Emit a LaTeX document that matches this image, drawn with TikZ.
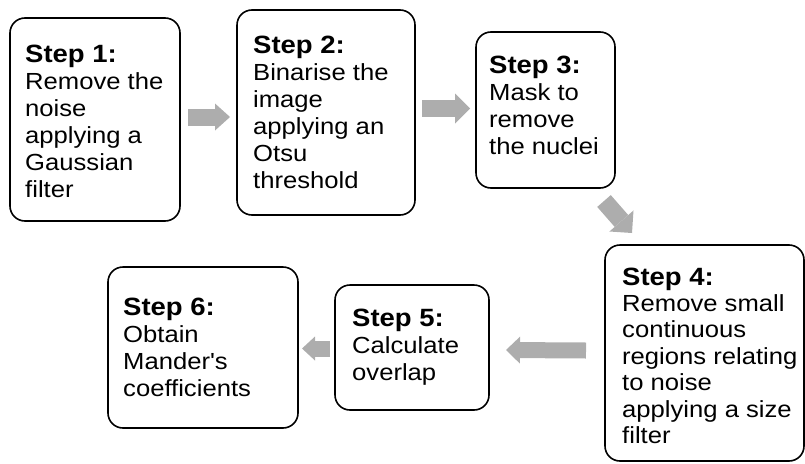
\documentclass[tikz,border=0pt]{standalone}
\usepackage{fontspec}
\setmainfont{Liberation Sans}
\usetikzlibrary{arrows.meta}
\definecolor{arrgray}{RGB}{173,173,173}
\newcommand{\stepcontent}[3][27]{\scalebox{1.10}[1]{\fontsize{23.3}{#1}\selectfont\begin{tabular}[t]{@{}l@{}}\fontsize{25}{#1}\selectfont\bfseries #2\\#3\end{tabular}}}
\begin{document}
\begin{tikzpicture}[x=1pt,y=-1pt,
  stepbox/.style={draw=black, line width=1.6pt, rounded corners=15pt, inner sep=0pt},
  steptext/.style={inner sep=0pt, anchor=base west},
  blockarr/.style={draw=arrgray, line width=#1, line cap=butt},
]
\useasboundingbox (0,0) rectangle (805,463);
\clip (0,0) rectangle (805,463);
% boxes
\node[stepbox, minimum width=170pt, minimum height=203pt] (b1) at (95,119.5) {};
\node[stepbox, minimum width=178pt, minimum height=205pt] (b2) at (326,112.5) {};
\node[stepbox, minimum width=139pt, minimum height=156pt] (b3) at (545.5,110) {};
\node[stepbox, minimum width=199pt, minimum height=216pt] (b4) at (704.5,353) {};
\node[stepbox, minimum width=154pt, minimum height=125pt] (b5) at (412,347.5) {};
\node[stepbox, minimum width=190pt, minimum height=161pt] (b6) at (203,347.5) {};
% texts
\node[steptext] (t1) at (25,62) {\stepcontent{Step 1:}{Remove the\\noise\\applying a\\Gaussian\\filter}};
\node[steptext] (t2) at (253,53.3) {\stepcontent{Step 2:}{Binarise the\\image\\applying an\\Otsu\\threshold}};
\node[steptext] (t3) at (489,73) {\stepcontent{Step 3:}{Mask to\\remove\\the nuclei}};
\node[steptext] (t4) at (622,285) {\stepcontent[26.4]{Step 4:}{Remove small\\continuous\\regions relating\\to noise\\applying a size\\filter}};
\node[steptext] (t5) at (352,326.7) {\stepcontent{Step 5:}{Calculate\\overlap}};
\node[steptext] (t6) at (123,315) {\stepcontent{Step 6:}{Obtain\\Mander\textquotesingle s\\coefficients}};
% arrow end points
\coordinate (a1s) at (188,117);   \coordinate (a1e) at (230,117);
\coordinate (a2s) at (422,108.5); \coordinate (a2e) at (470,108.5);
\coordinate (a3s) at (604,201);   \coordinate (a3e) at (632,233);
\coordinate (a4s) at (586,350.5); \coordinate (a4e) at (506,350);
\coordinate (a5s) at (330,348.5); \coordinate (a5e) at (302,348.5);
% block arrows
\draw[blockarr=17pt, -{Triangle[width=27pt, length=15pt, line width=0pt, fill=arrgray]}] (a1s) -- (a1e);
\draw[blockarr=17pt, -{Triangle[width=30pt, length=15pt, line width=0pt, fill=arrgray]}] (a2s) -- (a2e);
\draw[blockarr=18pt, -{Triangle[width=32pt, length=16pt, line width=0pt, fill=arrgray]}] (a3s) -- (a3e);
\draw[blockarr=16pt, -{Triangle[width=27pt, length=14pt, line width=0pt, fill=arrgray]}] (a4s) -- (a4e);
\draw[blockarr=16pt, -{Triangle[width=24pt, length=13pt, line width=0pt, fill=arrgray]}] (a5s) -- (a5e);
\end{tikzpicture}
\end{document}
